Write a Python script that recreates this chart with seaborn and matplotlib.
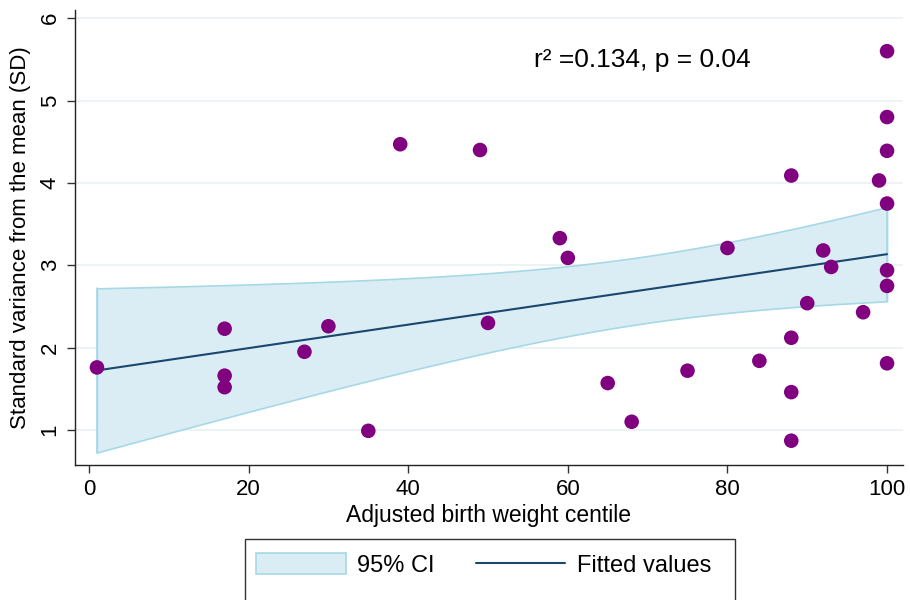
import numpy as np
import pandas as pd
import matplotlib
matplotlib.use("Agg")
import matplotlib.pyplot as plt
import seaborn as sns
from matplotlib.patches import Patch, Rectangle
from matplotlib.lines import Line2D

centile = [1, 17, 17, 17, 27, 30, 35, 39, 49, 50, 59, 60, 65, 68, 75, 80, 84,
           88, 88, 88, 88, 90, 92, 93, 97, 99, 100, 100, 100, 100, 100, 100, 100]
sd_var = [1.76, 2.23, 1.66, 1.52, 1.95, 2.26, 0.99, 4.47, 4.40, 2.30, 3.33, 3.09,
          1.57, 1.10, 1.72, 3.21, 1.84, 4.09, 2.12, 1.46, 0.87, 2.54, 3.18, 2.98,
          2.43, 4.03, 5.60, 4.80, 4.39, 3.75, 2.94, 2.75, 1.81]
x_ticks = [0, 20, 40, 60, 80, 100]
y_ticks = [1, 2, 3, 4, 5, 6]

df = pd.DataFrame({"x": centile, "y": sd_var})

sns.set_style("white")
plt.rcParams["font.family"] = ["Liberation Sans", "DejaVu Sans"]
plt.rcParams["text.color"] = "black"
plt.rcParams["axes.labelcolor"] = "black"
plt.rcParams["xtick.color"] = "black"
plt.rcParams["ytick.color"] = "black"

W, H = 910, 600
fig = plt.figure(figsize=(9.1, 6.0), dpi=100)
ax = fig.add_axes([75 / W, 1 - 465 / H, (903 - 75) / W, (465 - 10) / H])

# linear fit with analytic 95% CI of the mean
x = np.array(centile, float)
y = np.array(sd_var, float)
n = len(x)
b, a = np.polyfit(x, y, 1)
xs = np.linspace(x.min(), x.max(), 200)
yhat = a + b * xs
resid = y - (a + b * x)
s = np.sqrt(np.sum(resid ** 2) / (n - 2))
sxx = np.sum((x - x.mean()) ** 2)
t = 2.0395
se = s * np.sqrt(1 / n + (xs - x.mean()) ** 2 / sxx)

ci_face = "#dbedf4"
ci_edge = "#a6d8e6"
line_col = "#1a476f"
ax.fill_between(xs, yhat - t * se, yhat + t * se, facecolor=ci_face,
                edgecolor=ci_edge, linewidth=1.2, zorder=2)
for i in (0, -1):
    ax.plot([xs[i], xs[i]], [yhat[i] - t * se[i], yhat[i] + t * se[i]],
            color=ci_edge, lw=1.2, zorder=2)
ax.plot(xs, yhat, color=line_col, lw=1.5, zorder=3)
sns.scatterplot(data=df, x="x", y="y", ax=ax, color="#800080", s=110,
                edgecolor="none", zorder=4, legend=False)

ax.set_xlim(-1.75, 102.0)
ax.set_ylim(0.575, 6.1)
ax.set_xticks(x_ticks)
ax.set_yticks(y_ticks)
ax.set_yticklabels([str(v) for v in y_ticks], rotation=90, va="center")
ax.grid(axis="y", color="#eaf0f3", lw=1.2)
ax.set_axisbelow(True)
for side in ["top", "right"]:
    ax.spines[side].set_visible(False)
for side in ["left", "bottom"]:
    ax.spines[side].set_color("#222222")
    ax.spines[side].set_linewidth(1.0)
ax.tick_params(axis="both", which="both", length=5.8, width=1, color="#333333",
               labelsize=16, labelcolor="black", direction="out",
               bottom=True, left=True, pad=4.5)
ax.set_xlabel("Adjusted birth weight centile", fontsize=16.5, labelpad=3)
ax.set_ylabel("Standard variance from the mean (SD)", fontsize=16, labelpad=6)

ax.text(55.8, 5.49, "r² =0.134, p = 0.04", fontsize=19, va="center", ha="left")

# legend box (extends past the bottom edge, as in the original)
fig.patches.append(Rectangle((245 / W, -0.05), (735 - 245) / W, 0.05 + (1 - 539 / H),
                             transform=fig.transFigure, facecolor="white",
                             edgecolor="#333333", lw=1.0, zorder=0))
handles = [Patch(facecolor=ci_face, edgecolor=ci_edge, lw=1.2),
           Line2D([0], [0], color=line_col, lw=1.5)]
leg = fig.legend(handles, ["95% CI", "Fitted values"], loc="center left",
                 bbox_to_anchor=(237 / W, 1 - 565 / H), ncol=2, fontsize=17,
                 frameon=False, handlelength=3.8, handleheight=1.0,
                 handletextpad=0.5, columnspacing=1.72, borderpad=0.3)

fig.savefig("out.png", dpi=100)
